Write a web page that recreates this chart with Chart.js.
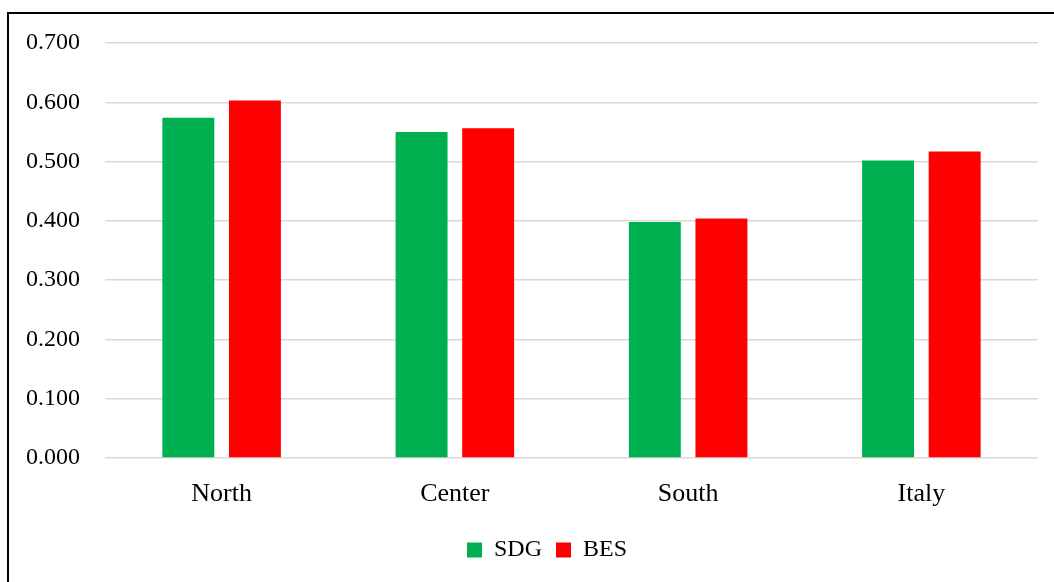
<!DOCTYPE html>
<html>
<head>
<meta charset="utf-8">
<script src="https://cdn.jsdelivr.net/npm/chart.js@4"></script>
<style>
    html, body { margin: 0; padding: 0; background: #fff; overflow: hidden; }
    #frame {
        position: absolute; left: 7px; top: 12px;
        width: 1200px; height: 800px;
        border: 2px solid #000;
    }
    #wrap { position: absolute; left: 0; top: 0; width: 1054px; height: 582px; }
</style>
</head>
<body>
<div id="frame"></div>
<div id="wrap"><canvas id="barChart"></canvas></div>
<script>
    // Chart data
    const regions = ['North', 'Center', 'South', 'Italy'];
    const sdgValues = [0.574, 0.550, 0.398, 0.502];
    const besValues = [0.603, 0.556, 0.404, 0.517];
    const yTicks = [0, 0.1, 0.2, 0.3, 0.4, 0.5, 0.6, 0.7];

    const fontFamily = '"Liberation Serif", "Times New Roman", serif';

    // nudge the legend a bit to the right, like the original
    const legendShift = {
        id: 'legendShift',
        afterLayout: function(chart) {
            if (chart.legend) {
                chart.legend.left += 28;
                chart.legend.right += 28;
            }
        }
    };

    const ctx = document.getElementById('barChart').getContext('2d');
    new Chart(ctx, {
        type: 'bar',
        data: {
            labels: regions,
            datasets: [{
                label: 'SDG',
                data: sdgValues,
                backgroundColor: '#00B050',
                borderWidth: 0
            }, {
                label: 'BES',
                data: besValues,
                backgroundColor: '#FF0000',
                borderWidth: 0
            }]
        },
        options: {
            responsive: true,
            maintainAspectRatio: false,
            animation: false,
            layout: {
                padding: { top: 43, right: 16, bottom: 10, left: 0 }
            },
            datasets: {
                bar: {
                    categoryPercentage: 0.571,
                    barPercentage: 0.78
                }
            },
            plugins: {
                tooltip: { enabled: false },
                legend: {
                    position: 'bottom',
                    labels: {
                        boxWidth: 15,
                        boxHeight: 15,
                        padding: 14,
                        color: '#000',
                        font: { family: fontFamily, size: 24 }
                    }
                }
            },
            scales: {
                x: {
                    grid: { display: false, drawTicks: false },
                    border: { display: false },
                    ticks: {
                        padding: 21,
                        color: '#000',
                        font: { family: fontFamily, size: 26 }
                    },
                    afterFit: function(scale) {
                        scale.height = 66;
                    }
                },
                y: {
                    min: 0,
                    max: 0.7,
                    afterBuildTicks: function(scale) {
                        scale.ticks = yTicks.map(v => ({ value: v }));
                    },
                    grid: {
                        color: '#d9d9d9',
                        lineWidth: 1.5,
                        drawTicks: false
                    },
                    border: { display: false },
                    ticks: {
                        padding: 25,
                        color: '#000',
                        font: { family: fontFamily, size: 24 },
                        callback: function(value) {
                            return Number(value).toFixed(3);
                        }
                    },
                    afterFit: function(scale) {
                        scale.width = 105;
                    }
                }
            }
        },
        plugins: [legendShift]
    });
</script>
</body>
</html>
